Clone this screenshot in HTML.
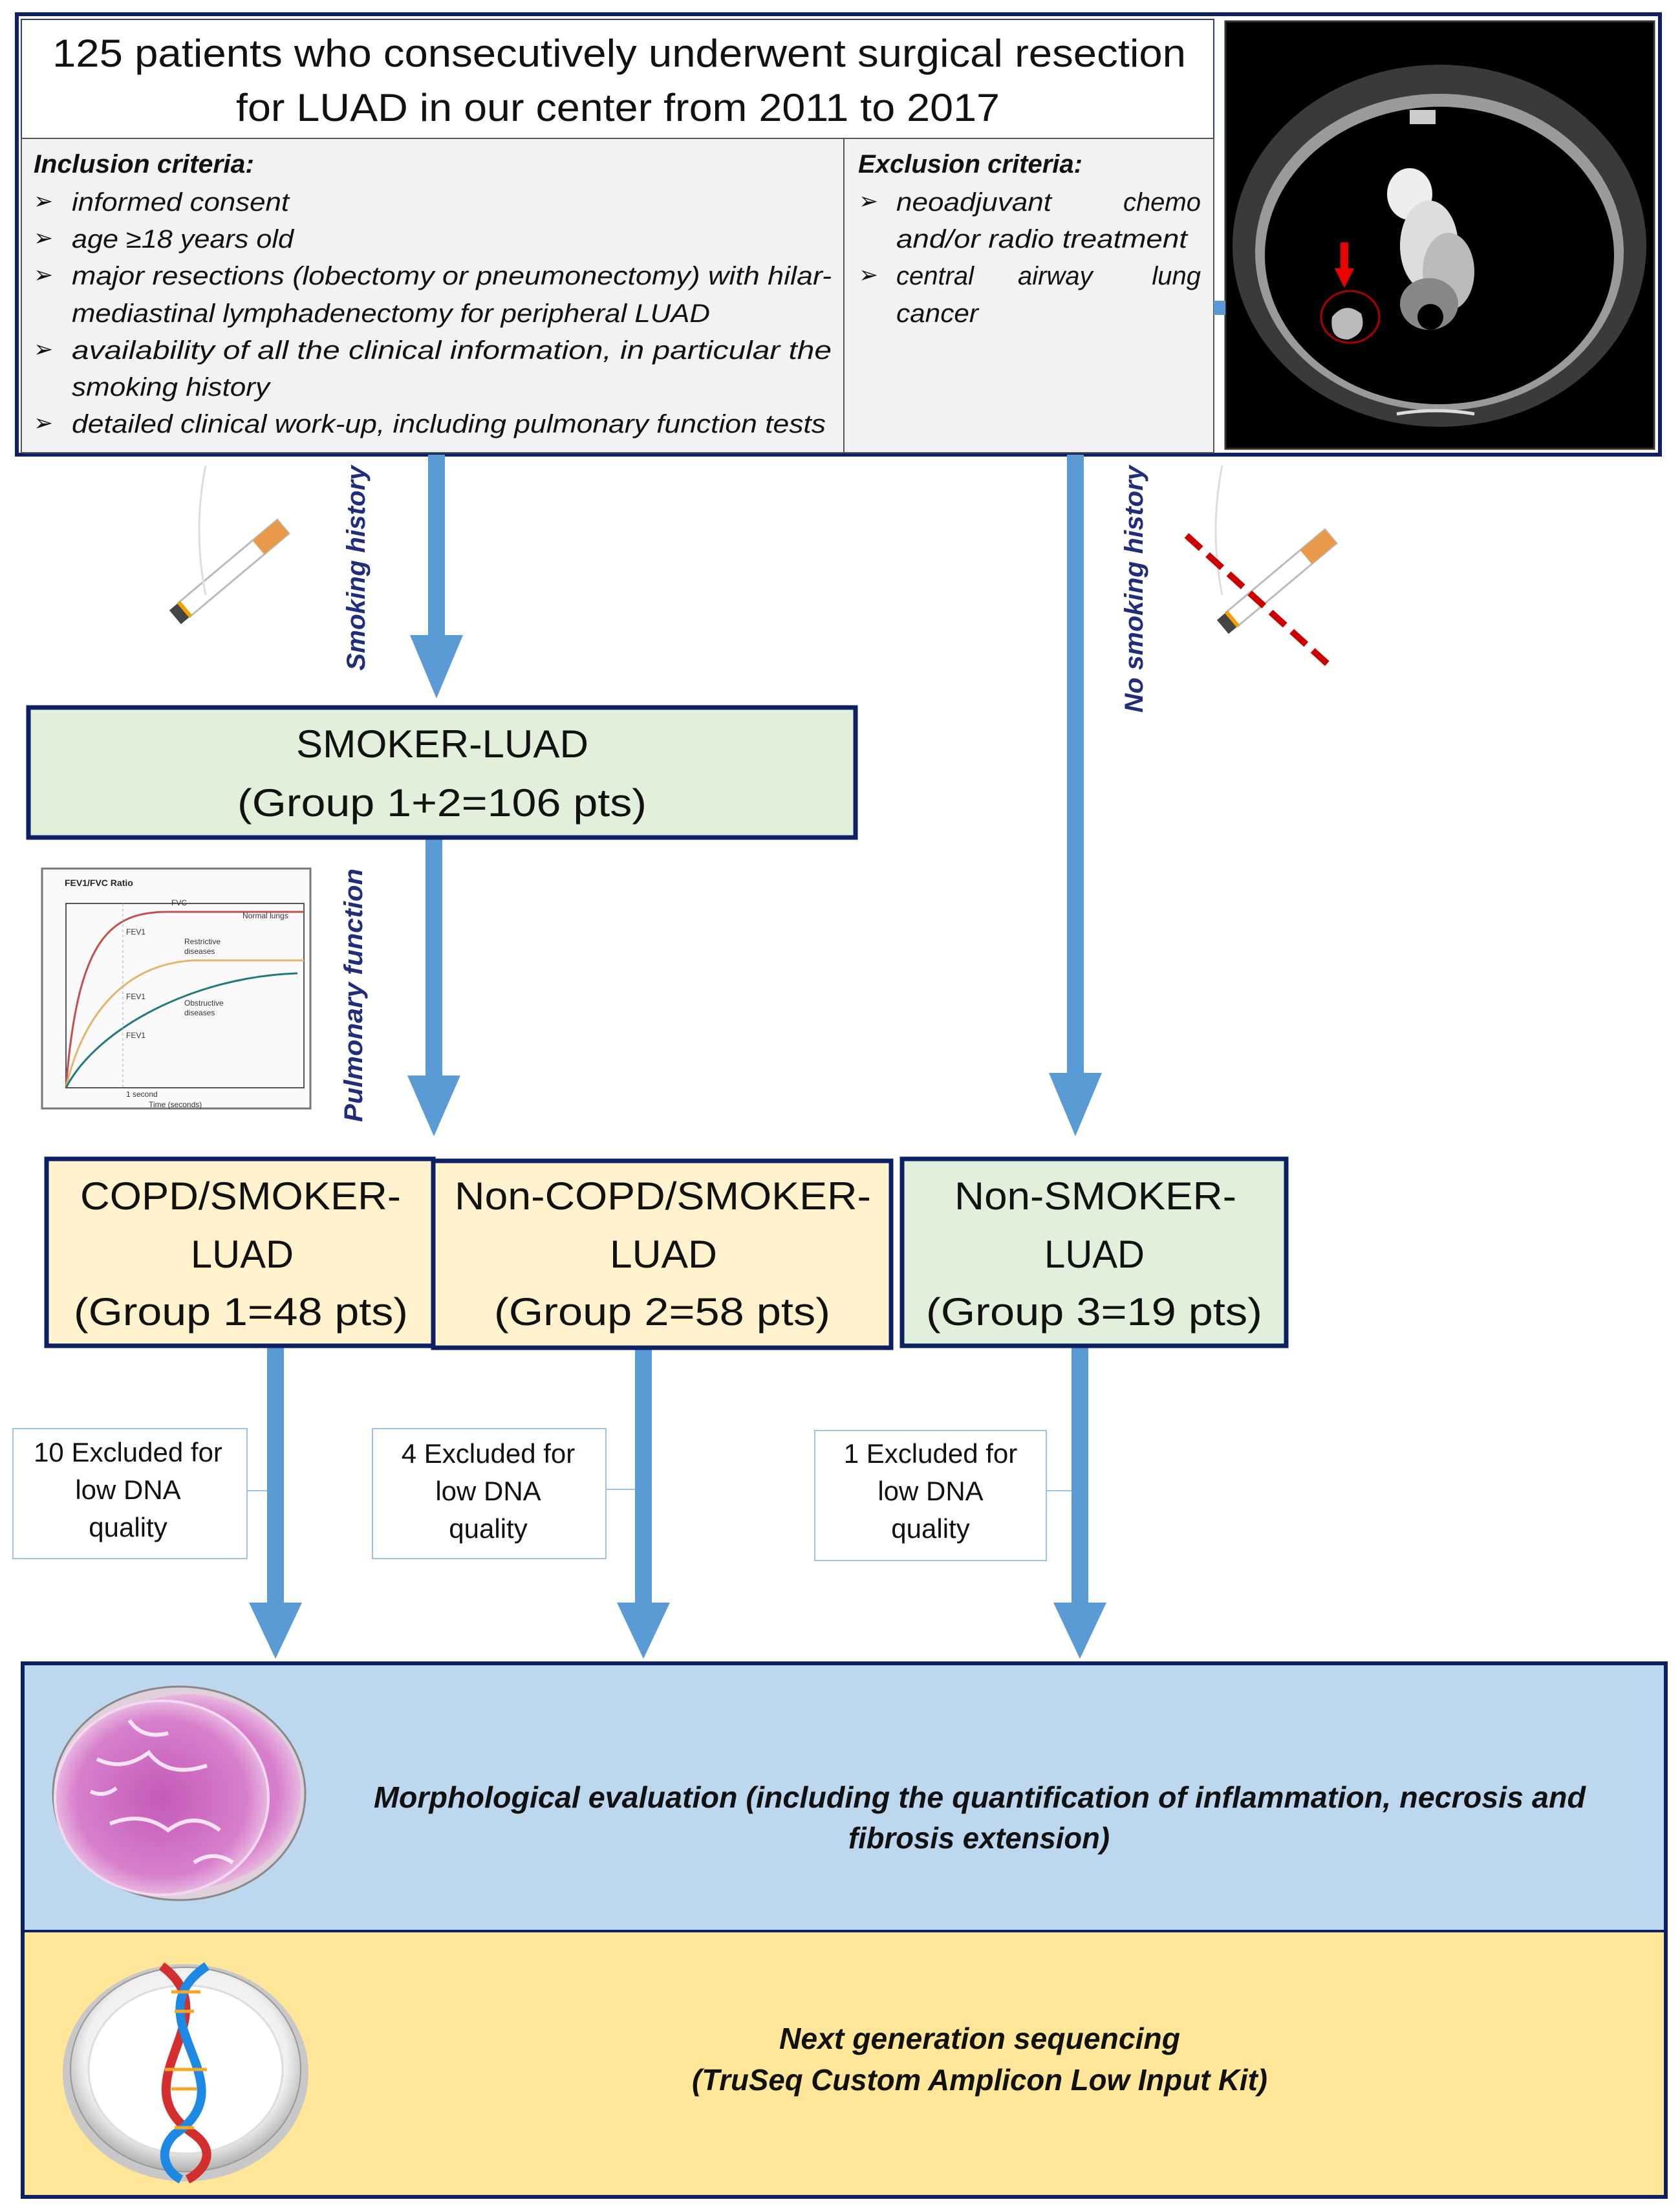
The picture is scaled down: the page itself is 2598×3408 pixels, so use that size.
<!DOCTYPE html>
<html><head><meta charset="utf-8"><style>
html,body{margin:0;padding:0;background:#fff}
svg{display:block}
text{font-family:"Liberation Sans",sans-serif}
</style></head><body>
<svg width="2598" height="3408" viewBox="0 0 2598 3408" xmlns="http://www.w3.org/2000/svg">
<defs>
<radialGradient id="hist" cx="50%" cy="50%" r="50%"><stop offset="0" stop-color="#c45ab8"/><stop offset="0.8" stop-color="#d77fcc"/><stop offset="1" stop-color="#e8b6e0"/></radialGradient>
<radialGradient id="plate" cx="50%" cy="45%" r="55%"><stop offset="0" stop-color="#ffffff"/><stop offset="0.8" stop-color="#f0f0f0"/><stop offset="1" stop-color="#b0b0b0"/></radialGradient>
</defs>

<rect x="26" y="22" width="2541" height="681" fill="#fff" stroke="#0d2063" stroke-width="6"/>
<rect x="33" y="30" width="1844" height="184" fill="#fff" stroke="#2c3e7a" stroke-width="2"/>
<rect x="33" y="214" width="1844" height="486" fill="#f2f2f2" stroke="#555" stroke-width="2"/>
<line x1="1305" y1="214" x2="1305" y2="700" stroke="#555" stroke-width="2"/>
<text x="81" y="103" font-size="60" textLength="1753" lengthAdjust="spacingAndGlyphs" fill="#111">125 patients who consecutively underwent surgical resection</text>
<text x="365" y="187" font-size="60" textLength="1181" lengthAdjust="spacingAndGlyphs" fill="#111">for LUAD in our center from 2011 to 2017</text>

<g font-style="italic" font-size="40" fill="#111">
<text x="52" y="267" font-weight="bold" textLength="341" lengthAdjust="spacingAndGlyphs">Inclusion criteria:</text>
<text x="111" y="326" textLength="336" lengthAdjust="spacingAndGlyphs">informed consent</text>
<text x="111" y="383" textLength="343" lengthAdjust="spacingAndGlyphs">age ≥18 years old</text>
<text x="111" y="440" textLength="1175" lengthAdjust="spacingAndGlyphs">major resections (lobectomy or pneumonectomy) with hilar-</text>
<text x="111" y="498" textLength="987" lengthAdjust="spacingAndGlyphs">mediastinal lymphadenectomy for peripheral LUAD</text>
<text x="111" y="555" textLength="1175" lengthAdjust="spacingAndGlyphs">availability of all the clinical information, in particular the</text>
<text x="111" y="612" textLength="306" lengthAdjust="spacingAndGlyphs">smoking history</text>
<text x="111" y="669" textLength="1166" lengthAdjust="spacingAndGlyphs">detailed clinical work-up, including pulmonary function tests</text>
<text x="1327" y="267" font-weight="bold" textLength="347" lengthAdjust="spacingAndGlyphs">Exclusion criteria:</text>
<text x="1386" y="326" textLength="240" lengthAdjust="spacingAndGlyphs">neoadjuvant</text>
<text x="1857" y="326" text-anchor="end">chemo</text>
<text x="1386" y="383" textLength="450" lengthAdjust="spacingAndGlyphs">and/or radio treatment</text>
<text x="1386" y="440">central</text>
<text x="1574" y="440">airway</text>
<text x="1857" y="440" text-anchor="end">lung</text>
<text x="1386" y="498" textLength="127" lengthAdjust="spacingAndGlyphs">cancer</text>
</g>
<g font-size="36" fill="#111">
<text x="52" y="323">➢</text><text x="52" y="380">➢</text><text x="52" y="437">➢</text><text x="52" y="552">➢</text><text x="52" y="666">➢</text>
<text x="1328" y="323">➢</text><text x="1328" y="437">➢</text>
</g>

<rect x="1895" y="33" width="663" height="661" fill="#000" stroke="#333" stroke-width="3"/>
<ellipse cx="2226" cy="380" rx="320" ry="280" fill="#3a3a3a"/>
<ellipse cx="2226" cy="390" rx="285" ry="245" fill="#9a9a9a"/>
<ellipse cx="2226" cy="395" rx="270" ry="230" fill="#000"/>
<ellipse cx="2180" cy="300" rx="35" ry="40" fill="#eee"/>
<ellipse cx="2210" cy="380" rx="45" ry="70" fill="#ddd"/>
<ellipse cx="2240" cy="420" rx="40" ry="60" fill="#bbb"/>
<ellipse cx="2210" cy="470" rx="45" ry="40" fill="#888"/>
<ellipse cx="2212" cy="490" rx="20" ry="20" fill="#000"/>
<rect x="2180" y="170" width="40" height="22" fill="#ccc"/>
<path d="M2060 490 q20 -25 45 -5 q10 30 -20 40 q-30 0 -25 -35z" fill="#bbb"/>
<ellipse cx="2088" cy="490" rx="45" ry="40" fill="none" stroke="#a00" stroke-width="3"/>
<rect x="2073" y="375" width="12" height="45" fill="#e00"/>
<polygon points="2064,415 2094,415 2079,445" fill="#e00"/>
<path d="M2160 640 q60 -10 120 0" stroke="#ddd" stroke-width="5" fill="none"/>
<rect x="1877" y="465" width="18" height="22" fill="#5b9bd5"/>

<g fill="#5b9bd5">
<rect x="662" y="703" width="26" height="285"/>
<polygon points="634,982 716,982 675,1080"/>
<rect x="1650" y="703" width="26" height="960"/>
<polygon points="1622,1659 1704,1659 1663,1757"/>
<rect x="658" y="1295" width="26" height="375"/>
<polygon points="630,1663 712,1663 671,1757"/>
<rect x="413" y="2081" width="26" height="405"/>
<polygon points="385,2478 467,2478 426,2565"/>
<rect x="982" y="2081" width="26" height="405"/>
<polygon points="954,2478 1036,2478 995,2565"/>
<rect x="1657" y="2081" width="26" height="405"/>
<polygon points="1629,2478 1711,2478 1670,2565"/>
</g>

<g font-weight="bold" font-style="italic" font-size="40" fill="#1f2d7a">
<text transform="translate(564,1037) rotate(-90)" textLength="317" lengthAdjust="spacingAndGlyphs">Smoking history</text>
<text transform="translate(1767,1102) rotate(-90)" textLength="382" lengthAdjust="spacingAndGlyphs">No smoking history</text>
<text transform="translate(560,1735) rotate(-90)" textLength="392" lengthAdjust="spacingAndGlyphs">Pulmonary function</text>
</g>

<g transform="translate(300,930) rotate(-40)">
<rect x="-20" y="-14" width="200" height="28" fill="#fff" stroke="#bbb" stroke-width="3"/>
<rect x="130" y="-14" width="50" height="28" fill="#e89a4a"/>
<rect x="-38" y="-14" width="22" height="28" fill="#444"/>
<rect x="-22" y="-14" width="6" height="28" fill="#f5a000"/>
</g>
<path d="M318 720 q-20 100 0 200" stroke="#ddd" stroke-width="3" fill="none"/>
<g transform="translate(1920,945) rotate(-40)">
<rect x="-20" y="-14" width="200" height="28" fill="#fff" stroke="#bbb" stroke-width="3"/>
<rect x="130" y="-14" width="50" height="28" fill="#e89a4a"/>
<rect x="-38" y="-14" width="22" height="28" fill="#444"/>
<rect x="-22" y="-14" width="6" height="28" fill="#f5a000"/>
</g>
<path d="M1890 720 q-20 100 0 200" stroke="#ddd" stroke-width="3" fill="none"/>
<line x1="1835" y1="828" x2="2060" y2="1033" stroke="#c00" stroke-width="10" stroke-dasharray="30,14"/>

<rect x="44" y="1094" width="1279" height="201" fill="#e2efda" stroke="#0d2063" stroke-width="7"/>
<text x="458" y="1171" font-size="60" textLength="452" lengthAdjust="spacingAndGlyphs" fill="#111">SMOKER-LUAD</text>
<text x="367" y="1262" font-size="60" textLength="633" lengthAdjust="spacingAndGlyphs" fill="#111">(Group 1+2=106 pts)</text>

<rect x="65" y="1343" width="415" height="371" fill="#fafafa" stroke="#777" stroke-width="3"/>
<rect x="102" y="1397" width="368" height="285" fill="none" stroke="#555" stroke-width="2"/>
<text x="100" y="1370" font-size="14" font-weight="bold" fill="#222">FEV1/FVC Ratio</text>
<path d="M102 1682 C120 1450 170 1410 260 1410 L470 1410" stroke="#c0504d" stroke-width="3" fill="none"/>
<path d="M102 1682 C130 1560 200 1490 300 1485 L470 1485" stroke="#e8b36a" stroke-width="3" fill="none"/>
<path d="M102 1682 C150 1590 300 1510 460 1505" stroke="#1f7a80" stroke-width="3" fill="none"/>
<line x1="190" y1="1397" x2="190" y2="1682" stroke="#aaa" stroke-width="1" stroke-dasharray="4,4"/>
<g font-size="12" fill="#333"><text x="265" y="1400">FVC</text><text x="375" y="1420">Normal lungs</text><text x="195" y="1445">FEV1</text><text x="285" y="1460">Restrictive</text><text x="285" y="1475">diseases</text><text x="195" y="1545">FEV1</text><text x="285" y="1555">Obstructive</text><text x="285" y="1570">diseases</text><text x="195" y="1605">FEV1</text><text x="195" y="1696">1 second</text><text x="230" y="1712">Time (seconds)</text></g>

<rect x="72" y="1792" width="598" height="289" fill="#fff2cc" stroke="#0d2063" stroke-width="7"/>
<rect x="670" y="1795" width="708" height="289" fill="#fff2cc" stroke="#0d2063" stroke-width="7"/>
<rect x="1395" y="1792" width="594" height="289" fill="#e2efda" stroke="#0d2063" stroke-width="7"/>
<g font-size="60" fill="#111">
<text x="124" y="1870" textLength="496" lengthAdjust="spacingAndGlyphs">COPD/SMOKER-</text>
<text x="295" y="1960" textLength="159" lengthAdjust="spacingAndGlyphs">LUAD</text>
<text x="114" y="2049" textLength="517" lengthAdjust="spacingAndGlyphs">(Group 1=48 pts)</text>
<text x="703" y="1870" textLength="644" lengthAdjust="spacingAndGlyphs">Non-COPD/SMOKER-</text>
<text x="943" y="1960" textLength="166" lengthAdjust="spacingAndGlyphs">LUAD</text>
<text x="764" y="2049" textLength="520" lengthAdjust="spacingAndGlyphs">(Group 2=58 pts)</text>
<text x="1476" y="1870" textLength="436" lengthAdjust="spacingAndGlyphs">Non-SMOKER-</text>
<text x="1615" y="1960" textLength="155" lengthAdjust="spacingAndGlyphs">LUAD</text>
<text x="1432" y="2049" textLength="520" lengthAdjust="spacingAndGlyphs">(Group 3=19 pts)</text>
</g>

<g stroke="#9dc3e6" stroke-width="2" fill="#fff">
<line x1="382" y1="2305" x2="413" y2="2305"/>
<line x1="937" y1="2303" x2="982" y2="2303"/>
<line x1="1618" y1="2305" x2="1657" y2="2305"/>
<rect x="20" y="2209" width="362" height="201"/>
<rect x="576" y="2209" width="361" height="201"/>
<rect x="1260" y="2212" width="358" height="201"/>
</g>
<g font-size="42" fill="#111" text-anchor="middle">
<text x="198" y="2260">10 Excluded for</text><text x="198" y="2318">low DNA</text><text x="198" y="2376">quality</text>
<text x="755" y="2262">4 Excluded for</text><text x="755" y="2320">low DNA</text><text x="755" y="2378">quality</text>
<text x="1439" y="2262">1 Excluded for</text><text x="1439" y="2320">low DNA</text><text x="1439" y="2378">quality</text>
</g>

<rect x="35" y="2572" width="2541" height="414" fill="#bdd7ee"/>
<rect x="35" y="2986" width="2541" height="411" fill="#ffe699"/>
<rect x="35" y="2572" width="2541" height="825" fill="none" stroke="#0d2063" stroke-width="6"/>
<line x1="35" y1="2986" x2="2576" y2="2986" stroke="#0d2063" stroke-width="4"/>
<g font-weight="bold" font-style="italic" font-size="46" fill="#111">
<text x="578" y="2795" textLength="1874" lengthAdjust="spacingAndGlyphs">Morphological evaluation (including the quantification of inflammation, necrosis and</text>
<text x="1312" y="2858" textLength="404" lengthAdjust="spacingAndGlyphs">fibrosis extension)</text>
<text x="1205" y="3168" textLength="620" lengthAdjust="spacingAndGlyphs">Next generation sequencing</text>
<text x="1070" y="3232" textLength="890" lengthAdjust="spacingAndGlyphs">(TruSeq Custom Amplicon Low Input Kit)</text>
</g>

<ellipse cx="277" cy="2773" rx="195" ry="165" fill="#e0d0dc" stroke="#888" stroke-width="3"/>
<ellipse cx="290" cy="2770" rx="175" ry="150" fill="url(#hist)"/>
<ellipse cx="250" cy="2780" rx="165" ry="150" fill="url(#hist)" stroke="#f3d9ef" stroke-width="4"/>
<g stroke="#fff" stroke-width="6" fill="none" opacity="0.8">
<path d="M150 2720 q40 20 80 -10 q30 40 90 20"/><path d="M170 2820 q50 -20 90 10 q40 -30 80 0"/><path d="M200 2660 q20 30 60 20"/><path d="M140 2770 q20 10 40 -5"/><path d="M300 2880 q30 -20 60 0"/>
</g>

<ellipse cx="287" cy="3205" rx="190" ry="168" fill="#c8c8c8"/>
<ellipse cx="287" cy="3200" rx="178" ry="158" fill="url(#plate)" stroke="#999" stroke-width="2"/>
<ellipse cx="287" cy="3200" rx="150" ry="130" fill="#fff" stroke="#ddd" stroke-width="3"/>
<path d="M250 3040 C360 3120 180 3220 300 3300 C340 3330 310 3360 290 3370" stroke="#d32f2f" stroke-width="14" fill="none"/>
<path d="M320 3040 C200 3120 390 3220 270 3300 C240 3330 260 3360 280 3370" stroke="#1e88e5" stroke-width="14" fill="none"/>
<g stroke="#f5a623" stroke-width="5"><line x1="265" y1="3080" x2="310" y2="3080"/><line x1="270" y1="3110" x2="300" y2="3110"/><line x1="255" y1="3200" x2="320" y2="3200"/><line x1="265" y1="3230" x2="305" y2="3230"/><line x1="270" y1="3290" x2="300" y2="3290"/></g>
</svg>
</body></html>
